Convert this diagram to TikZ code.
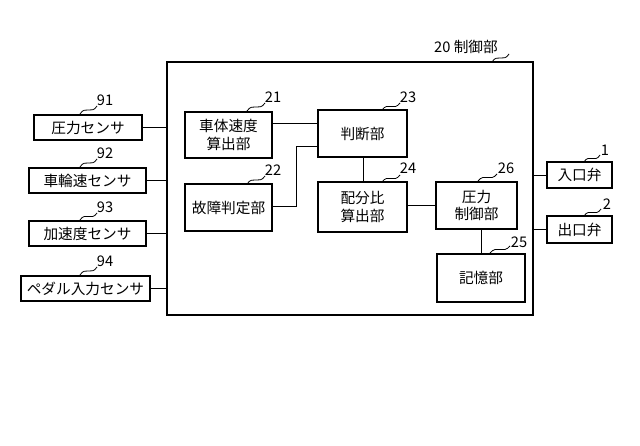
\documentclass[tikz,border=0pt]{standalone}
\usepackage{fontspec}
\setmainfont{Noto Sans CJK JP}
\usetikzlibrary{calc}
\begin{document}
\begin{tikzpicture}[x=0.75pt,y=-0.75pt,
  blk/.style={draw,line width=0.9pt,inner sep=0pt,align=center,font=\fontsize{11}{13}\selectfont},
  num/.style={font=\fontsize{11}{12}\selectfont,inner sep=0pt},
  ln/.style={line width=0.6pt}]
\useasboundingbox (0,0) rectangle (640,446);
\newcommand{\blkbox}[6]{\node[blk,minimum width=#4*0.75pt-#2*0.75pt,minimum height=#5*0.75pt-#3*0.75pt] (#1) at ({(#2+#4)/2},{(#3+#5)/2}) {#6};}
\newcommand{\sq}[2]{\draw[ln] #1 .. controls ($#1!0.5!#2+(-3,-5)$) and ($#1!0.5!#2+(3,5)$) .. #2;}
% main box
\draw[line width=1pt] (167,62) rectangle (533,315);
\node[num] (ctl) at (466,47) {20 制御部};
% sensors
\blkbox{s91}{34}{115}{142}{140}{圧力センサ}
\blkbox{s92}{29}{168}{146}{193}{車輪速センサ}
\blkbox{s93}{29}{221}{146}{246}{加速度センサ}
\blkbox{s94}{21}{276}{150}{301}{ペダル入力センサ}
\foreach \s in {s91,s92,s93,s94}{\draw[ln] (\s.east) -- (\s.east -| 167,0);}
% inner
\blkbox{b21}{185}{112}{272}{158}{車体速度\\算出部}
\blkbox{b22}{185}{184}{272}{231}{故障判定部}
\blkbox{b23}{318}{110}{407}{157}{判断部}
\blkbox{b24}{318}{182}{407}{232}{配分比\\算出部}
\blkbox{b26}{436}{182}{517}{229}{圧力\\制御部}
\blkbox{b25}{437}{254}{525}{302}{記憶部}
\blkbox{v1}{547}{162}{612}{188}{入口弁}
\blkbox{v2}{547}{216}{612}{243}{出口弁}
\draw[ln] (b21.east |- 0,123) -- (b23.west |- 0,123);
\draw[ln] (b22.east |- 0,206) -- (296,206) -- (296,146) -- (b23.west |- 0,146);
\draw[ln] (b23.south -| 363,0) -- (b24.north -| 363,0);
\draw[ln] (b24.east |- 0,205) -- (b26.west |- 0,205);
\draw[ln] (b26.south -| 481,0) -- (b25.north -| 481,0);
\draw[ln] (533,175) -- (v1.west |- 0,175);
\draw[ln] (533,229) -- (v2.west |- 0,229);
% labels
\node[num] (n21) at (273,97) {21}; \sq{(247,111)}{(265,103)}
\node[num] (n22) at (273,170) {22}; \sq{(247,184)}{(265,176)}
\node[num] (n23) at (408,97) {23}; \sq{(382,110)}{(400,103)}
\node[num] (n24) at (408,168) {24}; \sq{(382,182)}{(400,175)}
\node[num] (n26) at (506,168) {26}; \sq{(478,181)}{(497,174)}
\node[num] (n25) at (519,242) {25}; \sq{(490,253)}{(510,246)}
\node[num] (n1) at (605,150) {1}; \sq{(584,162)}{(600,155)}
\node[num] (n2) at (607,204) {2}; \sq{(584,216)}{(601,209)}
\node[num] (n91) at (105,100) {91}; \sq{(80,114)}{(97,106)}
\node[num] (n92) at (105,153) {92}; \sq{(80,167)}{(97,159)}
\node[num] (n93) at (105,207) {93}; \sq{(80,220)}{(97,213)}
\node[num] (n94) at (105,261) {94}; \sq{(80,275)}{(97,267)}
\sq{(492,62)}{(509,54)}
\end{tikzpicture}
\end{document}
